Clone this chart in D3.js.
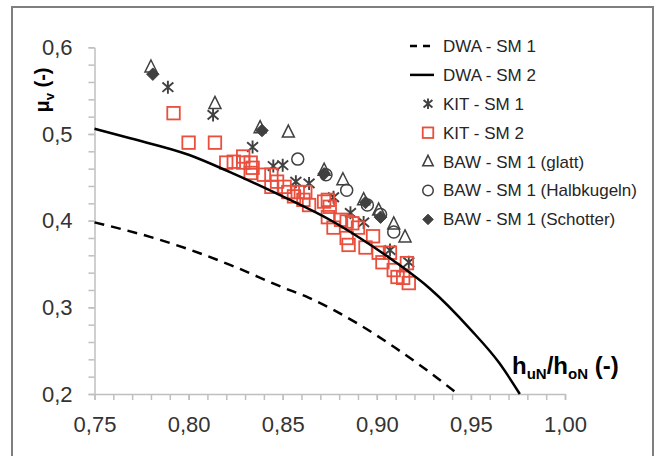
<!DOCTYPE html>
<html>
<head>
  <meta charset="utf-8">
  <script src="https://d3js.org/d3.v7.min.js"></script>
  <style>
    body { margin: 0; background: #fff; font-family: 'Liberation Sans', Arial, sans-serif; }
  </style>
</head>
<body>
  <div id="my_dataviz"></div>
  <script>
    // tick labels
    var xTicks = [0.75, 0.80, 0.85, 0.90, 0.95, 1.00];
    var yTicks = [0.2, 0.3, 0.4, 0.5, 0.6];

    // DWA curves
    var dwa1X = [0.75, 0.78, 0.80, 0.822, 0.85, 0.864, 0.89, 0.91, 0.925, 0.943];
    var dwa1Y = [0.398, 0.381, 0.367, 0.349, 0.323, 0.311, 0.281, 0.253, 0.230, 0.200];
    var dwa2X = [0.75, 0.769, 0.80, 0.822, 0.85, 0.875, 0.891, 0.91, 0.928, 0.95, 0.965, 0.976];
    var dwa2Y = [0.506, 0.495, 0.476, 0.456, 0.428, 0.401, 0.380, 0.352, 0.322, 0.274, 0.236, 0.200];

    // measurements
    var kit1X = [0.789, 0.813, 0.834, 0.845, 0.850, 0.857, 0.864, 0.877, 0.886, 0.893, 0.907, 0.917];
    var kit1Y = [0.554, 0.522, 0.485, 0.463, 0.464, 0.445, 0.443, 0.427, 0.409, 0.398, 0.366, 0.352];

    var kit2X = [0.792, 0.800, 0.814, 0.820, 0.824, 0.829, 0.829, 0.833, 0.834, 0.833, 0.840, 0.844,
                 0.847, 0.844, 0.851, 0.853, 0.858, 0.862, 0.856, 0.861, 0.864, 0.872, 0.874, 0.875,
                 0.874, 0.877, 0.881, 0.884, 0.887, 0.890, 0.884, 0.885, 0.894, 0.898, 0.901, 0.907,
                 0.903, 0.909, 0.916, 0.914, 0.917, 0.911];
    var kit2Y = [0.524, 0.490, 0.490, 0.467, 0.468, 0.467, 0.474, 0.467, 0.461, 0.455, 0.453, 0.453,
                 0.445, 0.439, 0.439, 0.433, 0.433, 0.433, 0.428, 0.424, 0.418, 0.422, 0.424, 0.416,
                 0.404, 0.392, 0.401, 0.399, 0.397, 0.392, 0.380, 0.372, 0.369, 0.382, 0.363, 0.363,
                 0.352, 0.343, 0.351, 0.334, 0.328, 0.335];

    var glattX = [0.780, 0.814, 0.838, 0.853, 0.872, 0.882, 0.893, 0.901, 0.909, 0.915];
    var glattY = [0.577, 0.535, 0.507, 0.502, 0.458, 0.447, 0.424, 0.412, 0.396, 0.381];

    var halbX = [0.858, 0.873, 0.884, 0.895, 0.902, 0.909];
    var halbY = [0.471, 0.453, 0.435, 0.418, 0.407, 0.387];

    var schotX = [0.781, 0.839, 0.872, 0.894, 0.902];
    var schotY = [0.569, 0.504, 0.454, 0.421, 0.404];

    var legendLabels = ["DWA - SM 1", "DWA - SM 2", "KIT - SM 1", "KIT - SM 2",
                        "BAW - SM 1 (glatt)", "BAW - SM 1 (Halbkugeln)", "BAW - SM 1 (Schotter)"];

    var W = 660, H = 456;
    var grey = "#404040", red = "#ea4e3c", axisCol = "#bfbfbf";

    var svg = d3.select("#my_dataviz")
      .append("svg")
      .attr("width", W)
      .attr("height", H);

    // outer frame
    svg.append("rect")
      .attr("x", 12).attr("y", 7)
      .attr("width", 641).attr("height", 470)
      .attr("fill", "none")
      .attr("stroke", "#7f7f7f")
      .attr("stroke-width", 2);

    var x = d3.scaleLinear().domain([0.75, 1.0]).range([94.5, 565]);
    var y = d3.scaleLinear().domain([0.2, 0.6]).range([394, 47.3]);

    var loc = d3.formatLocale({decimal: ",", thousands: ".", grouping: [3], currency: ["", "€"]});
    var fx = loc.format(".2f"), fy = loc.format(".1f");

    // X axis: minor ticks every 0.01, labels at 0.05
    var xMinor = d3.range(0, 26).map(function (i) { return 0.75 + i * 0.01; });
    svg.append("g")
      .attr("transform", "translate(0,394)")
      .call(d3.axisBottom(x).tickValues(xMinor).tickSize(6).tickSizeOuter(0).tickFormat(""));
    var gxl = svg.append("g")
      .attr("transform", "translate(0,394)")
      .call(d3.axisBottom(x).tickValues(xTicks).tickSize(6).tickSizeOuter(0).tickPadding(16).tickFormat(fx));
    gxl.select(".domain").remove();

    // Y axis: minor ticks every 0.02
    var yMinor = d3.range(0, 21).map(function (i) { return 0.2 + i * 0.02; });
    svg.append("g")
      .attr("transform", "translate(94.5,0)")
      .call(d3.axisLeft(y).tickValues(yMinor).tickSize(6).tickSizeOuter(0).tickFormat(""));
    var gyl = svg.append("g")
      .attr("transform", "translate(94.5,0)")
      .call(d3.axisLeft(y).tickValues(yTicks).tickSize(6).tickSizeOuter(0).tickPadding(16).tickFormat(fy));
    gyl.select(".domain").remove();

    svg.selectAll(".domain, .tick line")
      .attr("stroke", axisCol)
      .attr("stroke-width", 1.5);
    svg.selectAll(".tick text")
      .attr("fill", "#333")
      .style("font-size", "22px")
      .style("font-family", "'Liberation Sans', Arial, sans-serif");

    // marker drawing
    function marker(g, type, cx, cy, s) {
      var h = s / 2;
      if (type == "square") {
        g.append("rect").attr("x", cx - h).attr("y", cy - h).attr("width", s).attr("height", s)
          .attr("fill", "none").attr("stroke", red).attr("stroke-width", 1.8);
      } else if (type == "tri") {
        g.append("path")
          .attr("d", "M" + cx + "," + (cy - s * 0.6) + "L" + (cx + h) + "," + (cy + s * 0.4) + "L" + (cx - h) + "," + (cy + s * 0.4) + "Z")
          .attr("fill", "none").attr("stroke", grey).attr("stroke-width", 1.5);
      } else if (type == "circle") {
        g.append("circle").attr("cx", cx).attr("cy", cy).attr("r", h)
          .attr("fill", "none").attr("stroke", grey).attr("stroke-width", 1.5);
      } else if (type == "diamond") {
        g.append("path")
          .attr("d", "M" + cx + "," + (cy - h) + "L" + (cx + h) + "," + cy + "L" + cx + "," + (cy + h) + "L" + (cx - h) + "," + cy + "Z")
          .attr("fill", grey).attr("stroke", grey).attr("stroke-width", 1);
      } else if (type == "star") {
        var a = s * 0.42, b = s * 0.36;
        g.append("path")
          .attr("d", "M" + cx + "," + (cy - h) + "V" + (cy + h) +
            "M" + (cx - a) + "," + (cy - b) + "L" + (cx + a) + "," + (cy + b) +
            "M" + (cx - a) + "," + (cy + b) + "L" + (cx + a) + "," + (cy - b))
          .attr("fill", "none").attr("stroke", grey).attr("stroke-width", 1.9);
      }
    }

    function series(xs, ys, type, s) {
      var g = svg.append("g");
      xs.forEach(function (v, i) { marker(g, type, x(v), y(ys[i]), s); });
    }

    series(kit1X, kit1Y, "star", 13);
    series(kit2X, kit2Y, "square", 12.5);
    series(glattX, glattY, "tri", 12);
    series(halbX, halbY, "circle", 12);
    series(schotX, schotY, "diamond", 12.5);

    // DWA curves
    var line = d3.line()
      .x(function (d) { return x(d[0]); })
      .y(function (d) { return y(d[1]); })
      .curve(d3.curveMonotoneX);

    svg.append("path")
      .datum(dwa1X.map(function (v, i) { return [v, dwa1Y[i]]; }))
      .attr("d", line)
      .attr("fill", "none").attr("stroke", "#000").attr("stroke-width", 2.5)
      .attr("stroke-dasharray", "10,7");
    svg.append("path")
      .datum(dwa2X.map(function (v, i) { return [v, dwa2Y[i]]; }))
      .attr("d", line)
      .attr("fill", "none").attr("stroke", "#000").attr("stroke-width", 2.5);

    // axis titles
    var yt = svg.append("text")
      .attr("transform", "translate(49,90) rotate(-90)")
      .attr("text-anchor", "middle")
      .attr("fill", "#000")
      .style("font-weight", "bold")
      .style("font-size", "20px");
    yt.append("tspan").text("\u03bc");
    yt.append("tspan").attr("dy", 5).style("font-size", "13px").text("v");
    yt.append("tspan").attr("dy", -5).text(" (-)");

    var xt = svg.append("text")
      .attr("x", 512).attr("y", 374)
      .attr("fill", "#000")
      .style("font-weight", "bold")
      .style("font-size", "24px");
    xt.append("tspan").text("h");
    xt.append("tspan").attr("dy", 5).style("font-size", "15px").text("uN");
    xt.append("tspan").attr("dy", -5).text("/h");
    xt.append("tspan").attr("dy", 5).style("font-size", "15px").text("oN");
    xt.append("tspan").attr("dy", -5).text(" (-)");

    // legend
    var legY0 = 46, legDy = 28.9;
    var leg = svg.append("g");
    legendLabels.forEach(function (t, i) {
      var ly = legY0 + i * legDy;
      if (i == 0 || i == 1) {
        leg.append("line").attr("x1", 410).attr("x2", 434).attr("y1", ly).attr("y2", ly)
          .attr("stroke", "#000").attr("stroke-width", 2.5)
          .attr("stroke-dasharray", i == 0 ? "7,6" : null);
      }
      leg.append("text")
        .attr("x", 443).attr("y", ly)
        .attr("dy", "0.35em")
        .attr("fill", "#262626")
        .style("font-size", "17px")
        .text(t);
    });
    var legTypes = ["star", "square", "tri", "circle", "diamond"];
    legTypes.forEach(function (tp, i) {
      marker(leg, tp, 428, legY0 + (i + 2) * legDy, 10.5);
    });
  </script>
</body>
</html>
